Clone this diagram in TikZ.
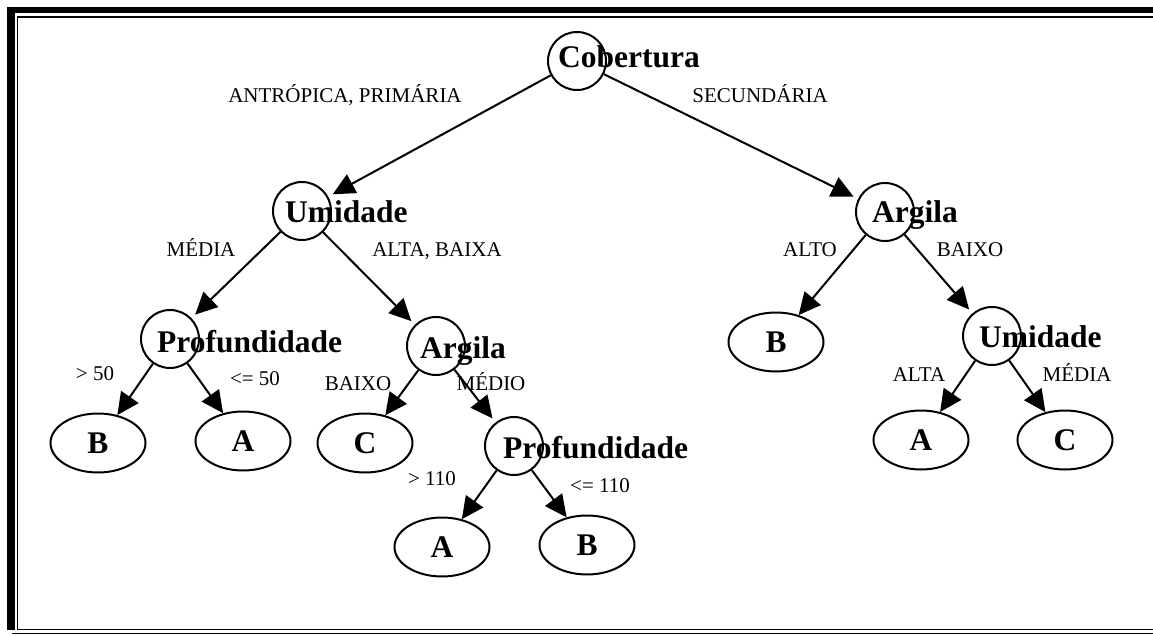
\documentclass[tikz,border=0pt]{standalone}
\usepackage{fontspec}
\setmainfont{Liberation Serif}
\usetikzlibrary{arrows.meta,shapes.geometric}

\begin{document}
\begin{tikzpicture}[x=1pt,y=-1pt,
  decision/.style={circle,draw,line width=2pt,minimum size=58pt,inner sep=0pt},
  leaf/.style={ellipse,draw,line width=2pt,minimum width=95pt,minimum height=59pt,inner sep=0pt,
    font=\fontsize{31.5}{36}\selectfont\bfseries},
  attr/.style={anchor=base west,inner sep=0pt,font=\fontsize{31.5}{36}\selectfont\bfseries},
  cond/.style={anchor=base,inner sep=0pt,font=\fontsize{21}{24}\selectfont},
  branch/.style={-{Triangle[length=22pt,width=21pt]},line width=2pt},
  tonode/.style={branch,shorten >=5pt}
]
\useasboundingbox (0,0) rectangle (1153,636);

% page frame (thick-thin border)
\fill (7,7) rectangle (15,630);
\fill (7,7) rectangle (1153,13);
\draw[line width=1.5pt] (1153,17) -- (17.7,17) -- (17.7,629.5) -- (1153,629.5);
\draw[line width=1.3pt] (12,633.5) -- (1153,633.5);

% decision nodes
\node[decision] (cob)  at (577,61)  {};
\node[decision] (umL)  at (302,211) {};
\node[decision] (argR) at (885,212) {};
\node[decision] (profL) at (170,339) {};
\node[decision] (argM) at (436,346) {};
\node[decision] (profM) at (514,446) {};
\node[decision] (umR)  at (992,336) {};

% attribute names
\node[attr] (tcob)  at (558,68)  {Cobertura};
\node[attr] (tumL)  at (285,223) {Umidade};
\node[attr] (targR) at (872,223) {Argila};
\node[attr] (tprofL) at (157,352) {Profundidade};
\node[attr] (targM) at (420,358) {Argila};
\node[attr] (tprofM) at (503,458) {Profundidade};
\node[attr] (tumR)  at (979,347) {Umidade};

% leaves
\node[leaf] (bL) at (98,443)  {B};
\node[leaf] (aL) at (243,441) {A};
\node[leaf] (cM) at (365,443) {C};
\node[leaf] (a2) at (442,547) {A};
\node[leaf] (b2) at (587,545) {B};
\node[leaf] (bR) at (776,342) {B};
\node[leaf] (aR) at (921,440) {A};
\node[leaf] (cR) at (1065,440) {C};

% branches
\draw[tonode] (cob) -- (umL);
\draw[tonode] (cob) -- (argR);
\draw[tonode] (umL) -- (profL);
\draw[tonode] (umL) -- (argM);
\draw[branch] (profL) -- (bL);
\draw[branch] (profL) -- (aL);
\draw[branch] (argM) -- (cM);
\draw[tonode] (argM) -- (profM);
\draw[branch] (profM) -- (a2);
\draw[branch] (profM) -- (b2);
\draw[branch] (argR) -- (bR);
\draw[tonode] (argR) -- (umR);
\draw[branch] (umR) -- (aR);
\draw[branch] (umR) -- (cR);

% branch conditions
\node[cond] (l1)  at (345,103) {ANTRÓPICA, PRIMÁRIA};
\node[cond] (l2)  at (760,103) {SECUNDÁRIA};
\node[cond] (l3)  at (201,257) {MÉDIA};
\node[cond] (l4)  at (437,257) {ALTA, BAIXA};
\node[cond] (l5)  at (810,257) {ALTO};
\node[cond] (l6)  at (970,257) {BAIXO};
\node[cond] (l7)  at (95,380)  {> 50};
\node[cond] (l8)  at (255,385) {<= 50};
\node[cond] (l9)  at (358,390) {BAIXO};
\node[cond] (l10) at (491,390) {MÉDIO};
\node[cond] (l11) at (432,485) {> 110};
\node[cond] (l12) at (600,492) {<= 110};
\node[cond] (l13) at (919,381) {ALTA};
\node[cond] (l14) at (1077,381) {MÉDIA};
\end{tikzpicture}
\end{document}
